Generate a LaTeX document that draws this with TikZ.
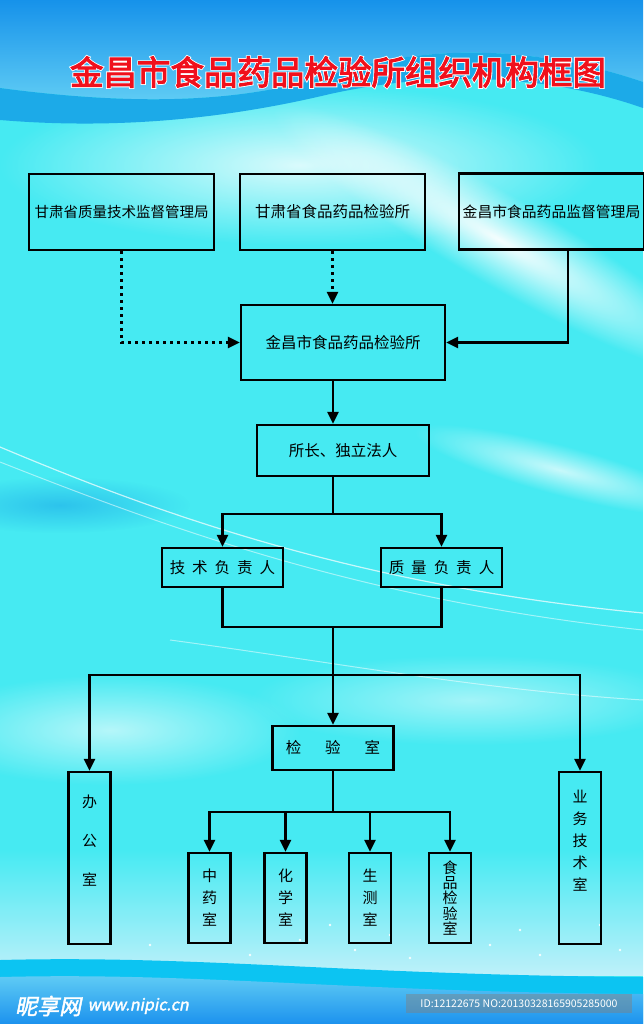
\documentclass[tikz,border=0pt]{standalone}
\usepackage{fontspec}
\setmainfont{Noto Sans CJK SC}
\newfontfamily\titlefont[FakeBold=3]{Noto Sans CJK SC}
\newfontfamily\halofont[FakeBold=8]{Noto Sans CJK SC}
\newfontfamily\markfont[FakeBold=2,FakeSlant=0.2]{Noto Sans CJK SC}
\usetikzlibrary{arrows.meta,positioning,fadings}

\definecolor{skytop}{RGB}{22,146,234}
\definecolor{skylow}{RGB}{100,208,245}
\definecolor{waveblue}{RGB}{28,170,232}
\definecolor{aqua}{RGB}{70,234,242}
\definecolor{paleaqua}{RGB}{175,250,252}
\definecolor{paleblue}{RGB}{190,240,250}
\definecolor{seablue}{RGB}{12,196,242}
\definecolor{deepblue}{RGB}{28,146,238}
\definecolor{titlered}{RGB}{240,16,28}

\tikzfading[name=softglow, inner color=transparent!0, outer color=transparent!100]

\begin{document}
\begin{tikzpicture}[x=1pt,y=-1pt,
      unit/.style={
        draw, line width=2.4pt,
        inner sep=0pt,
        font=\fontsize{15.5}{18}\selectfont
      },
      tallunit/.style={
        unit, minimum width=42pt, align=center
      },
      arrow/.style={
        -{Triangle[length=12pt,width=11pt]},
        line width=2.4pt
      },
      dotarrow/.style={
        arrow, dash pattern=on 2.4pt off 4.6pt
      },
      glow/.style={
        fill=white, path fading=softglow
      }
    ]
      % background
      \useasboundingbox (0,0) rectangle (643,1024);
      \fill[aqua] (0,0) rectangle (643,1024);
      \fill[glow, opacity=.8] (300,165) ellipse (300 and 80);
      \begin{scope}[transform canvas={rotate around={-30:(500,240)}}]
        \fill[glow, opacity=.95] (500,240) ellipse (260 and 45);
      \end{scope}
      \begin{scope}[transform canvas={rotate around={-15:(560,470)}}]
        \fill[glow, opacity=.7] (560,470) ellipse (150 and 25);
      \end{scope}
      \fill[glow, opacity=.6] (110,730) ellipse (190 and 55);
      \fill[glow, opacity=.5] (470,700) ellipse (220 and 45);
      \fill[waveblue, path fading=softglow, opacity=.6] (60,505) ellipse (130 and 28);
      \draw[white, opacity=.7, line width=1.2pt] (0,447) .. controls (150,510) and (350,585) .. (643,613);
      \draw[white, opacity=.5, line width=1pt] (0,462) .. controls (160,525) and (360,600) .. (643,630);
      \draw[white, opacity=.5, line width=1pt] (170,640) .. controls (320,660) and (480,690) .. (643,700);
      \shade[top color=aqua, bottom color=paleblue] (0,850) rectangle (643,975);
      \foreach \sx/\sy in {300/940, 330/925, 355/950, 390/935, 410/958, 490/945, 520/930, 540/955, 600/925, 620/950, 250/955, 150/945}
        \fill[white, opacity=.9] (\sx,\sy) circle (1.4);
      % top wave
      \shade[top color=skytop, bottom color=skylow] (0,0) -- (643,0) -- (643,82)
        .. controls (520,40) and (410,48) .. (330,75)
        .. controls (250,100) and (150,108) .. (0,88) -- cycle;
      \fill[waveblue] (0,88) .. controls (150,108) and (250,100) .. (330,75)
        .. controls (410,48) and (520,40) .. (643,82) -- (643,108)
        .. controls (540,72) and (430,72) .. (330,94)
        .. controls (230,118) and (120,130) .. (0,120) -- cycle;
      % bottom wave
      \fill[seablue] (0,960) .. controls (200,955) and (350,975) .. (643,977)
        -- (643,1024) -- (0,1024) -- cycle;
      \shade[top color=skylow, bottom color=deepblue] (0,977) .. controls (200,972) and (350,992) .. (643,994)
        -- (643,1024) -- (0,1024) -- cycle;

      % title
      \node[font=\halofont\fontsize{33.5}{40}\selectfont, text=white, inner sep=0pt] (titlehalo) at (338,72) {金昌市食品药品检验所组织机构框图};
      \node[font=\titlefont\fontsize{33.5}{40}\selectfont, text=titlered, inner sep=0pt] (title) at (titlehalo) {金昌市食品药品检验所组织机构框图};

      % boxes
      \node[unit, minimum width=185pt, minimum height=76pt, font=\fontsize{14.5}{18}\selectfont] (sjj) at (121.5,212) {甘肃省质量技术监督管理局};
      \node[unit, minimum width=185pt, minimum height=76pt] (gssy) at (332.5,212) {甘肃省食品药品检验所};
      \node[unit, minimum width=185pt, minimum height=76pt, font=\fontsize{14.8}{18}\selectfont] (jcjg) at (551.5,211.5) {金昌市食品药品监督管理局};
      \node[unit, minimum width=204pt, minimum height=75pt] (jcsy) at (343,342.5) {金昌市食品药品检验所};
      \node[unit, minimum width=172pt, minimum height=51pt] (boss) at (343,450.5) {所长、独立法人};
      \node[unit, minimum width=121pt, minimum height=39pt] (jsfz) at (222.5,567.5) {技\hspace{7pt}术\hspace{7pt}负\hspace{7pt}责\hspace{7pt}人};
      \node[unit, minimum width=121pt, minimum height=39pt] (zlfz) at (441.5,567.5) {质\hspace{7pt}量\hspace{7pt}负\hspace{7pt}责\hspace{7pt}人};
      \node[unit, minimum width=121pt, minimum height=44pt] (jys) at (333,748) {检\hspace{24pt}验\hspace{24pt}室};
      \node[tallunit, minimum height=172pt, label={[name=bgstext, yshift=17pt, align=center, font=\fontsize{15}{39}\selectfont]center:办\\公\\室}] (bgs) at (89.5,858) {};
      \node[tallunit, minimum height=172pt, label={[name=ywjstext, yshift=17pt, align=center, font=\fontsize{15}{22}\selectfont]center:业\\务\\技\\术\\室}] (ywjs) at (580,858) {};
      \node[tallunit, minimum height=90pt, font=\fontsize{15}{22}\selectfont] (zys) at (209.5,898) {中\\药\\室};
      \node[tallunit, minimum height=90pt, font=\fontsize{15}{22}\selectfont] (hxs) at (285.5,898) {化\\学\\室};
      \node[tallunit, minimum height=90pt, font=\fontsize{15}{22}\selectfont] (scs) at (370,898) {生\\测\\室};
      \node[tallunit, minimum height=90pt, font=\fontsize{15}{15.3}\selectfont] (spjy) at (450,898) {食\\品\\检\\验\\室};

      % connectors
      \coordinate (axis) at (333,0);
      \coordinate (feed) at (568,0);
      \coordinate (split1) at (333,514);
      \coordinate (merge) at (333,627);
      \coordinate (split2) at (333,675);
      \coordinate (split3) at (333,812);
      \draw[dotarrow] (sjj.south) |- (jcsy.west);
      \draw[dotarrow] (gssy.south) -- (gssy.south |- jcsy.north);
      \draw[arrow] (jcjg.south -| feed) |- (jcsy.east);
      \draw[arrow] (jcsy.south -| axis) -- (boss.north -| axis);
      \draw[line width=2.4pt] (boss.south -| axis) -- (split1);
      \draw[arrow] (split1) -| (jsfz.north);
      \draw[arrow] (split1) -| (zlfz.north);
      \draw[line width=2.4pt] (jsfz.south) |- (merge) -| (zlfz.south);
      \draw[line width=2.4pt] (merge) -- (split2);
      \draw[arrow] (split2) -| (bgs.north);
      \draw[arrow] (split2) -| (ywjs.north);
      \draw[arrow] (split2) -- (jys.north);
      \draw[line width=2.4pt] (jys.south) -- (split3);
      \draw[arrow] (split3) -| (zys.north);
      \draw[arrow] (split3) -| (hxs.north);
      \draw[arrow] (split3) -| (scs.north);
      \draw[arrow] (split3) -| (spjy.north);

      % site mark
      \node[font=\markfont\fontsize{22}{24}\selectfont, text=white, anchor=west, inner sep=0pt] (markcn) at (15,1006) {昵享网};
      \node[font=\markfont\fontsize{16}{18}\selectfont, text=white, anchor=west, inner sep=0pt, right=6pt of markcn] (markurl) {www.nipic.cn};
      \fill[gray, opacity=.45] (406,994) rectangle (632,1013);
      \node[font=\fontsize{10.5}{12}\selectfont, text=white, inner sep=0pt] (markid) at (519,1003.5) {ID:12122675 NO:20130328165905285000};
    \end{tikzpicture}
\end{document}
